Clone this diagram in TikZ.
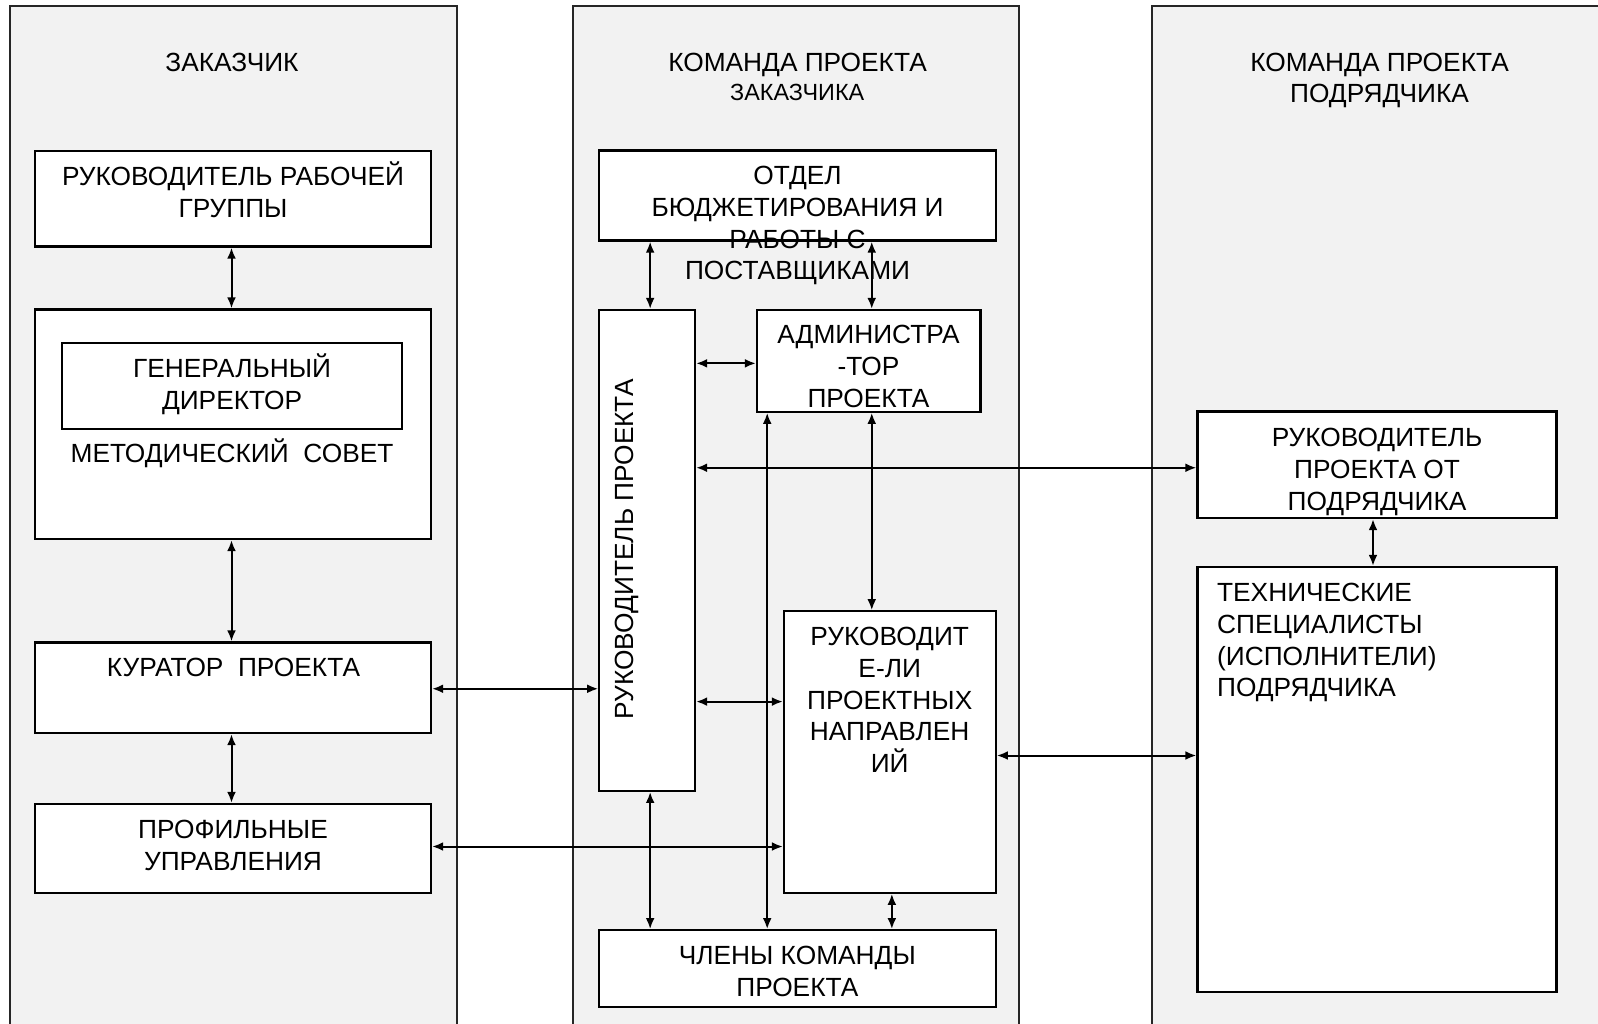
\documentclass[tikz,border=0pt]{standalone}
\usepackage{fontspec}
\setmainfont{Liberation Sans}
\usetikzlibrary{arrows.meta,calc}
\definecolor{panelgray}{HTML}{F2F2F2}
% invisible strut that fixes the height of a text block's first line
\newcommand\lnstrut{\rule{0pt}{12pt}}

\begin{document}
\begin{tikzpicture}[x=0.5pt,y=-0.5pt,
  paneledge/.style={draw=black!85, line width=1pt},
  box/.style={draw=black, line width=1.1pt, fill=white, inner sep=0pt, rectangle},
  sz/.style 2 args={minimum width=#1*0.5pt, minimum height=#2*0.5pt},
  txt/.style={font=\fontsize{13.15}{15.9}\selectfont, align=center, anchor=north, inner sep=0pt},
  smalltxt/.style={font=\fontsize{11.7}{14}\selectfont, align=center, anchor=north, inner sep=0pt},
  link/.style={line width=1pt, {Latex[length=5.5pt,width=4.4pt]}-{Latex[length=5.5pt,width=4.4pt]}},
]
\useasboundingbox (0,0) rectangle (1598,1023);

% three swim lanes, open at the bottom
\fill[panelgray] (10,5.5) rectangle (457,1030);
\draw[paneledge] (10,1030) -- (10,5.5) -- (457,5.5) -- (457,1030);
\fill[panelgray] (572.5,5.5) rectangle (1019.3,1030);
\draw[paneledge] (572.5,1030) -- (572.5,5.5) -- (1019.3,5.5) -- (1019.3,1030);
\fill[panelgray] (1152,5.5) rectangle (1610,1030);
\draw[paneledge] (1152,1030) -- (1152,5.5) -- (1610,5.5);

% lane headings
\node[txt] (hA) at (232,46.7) {\lnstrut ЗАКАЗЧИК};
\node[txt] (hB1) at (797.5,46.7) {\lnstrut КОМАНДА ПРОЕКТА};
\node[smalltxt] (hB2) at (797.2,76) {\lnstrut ЗАКАЗЧИКА};
\node[txt] (hC) at (1379.5,46.7) {\lnstrut КОМАНДА ПРОЕКТА\\ПОДРЯДЧИКА};

% boxes
\node[box, sz={396}{95.5}] (rrg) at (233,198.75) {};
\node[box, sz={396}{229.5}] (ms) at (233,424.25) {};
\node[box, sz={340}{86}] (gd) at (232,386) {};
\node[box, sz={396}{90.5}] (kur) at (233,687.75) {};
\node[box, sz={396}{89}] (prof) at (233,848.5) {};

\node[box, sz={396.4}{90}] (otdel) at (797.5,195.5) {};
\node[box, sz={95.7}{480.8}] (rp) at (647.15,550.4) {};
\node[box, sz={223.5}{101.7}] (adm) at (868.75,360.85) {};
\node[box, sz={211.7}{281.4}] (rn) at (889.85,752) {};
\node[box, sz={396.4}{77.1}] (chl) at (797.5,968.75) {};

\node[box, sz={359}{106.5}] (prp) at (1377,464.75) {};
\node[box, sz={359}{424.6}] (tech) at (1377,779.3) {};

% box texts
\node[txt] (t-rrg) at (233,161) {\lnstrut РУКОВОДИТЕЛЬ РАБОЧЕЙ\\ГРУППЫ};
\node[txt] (t-gd) at (232,353) {\lnstrut ГЕНЕРАЛЬНЫЙ\\ДИРЕКТОР};
\node[txt] (t-ms) at (232,438.5) {\lnstrut МЕТОДИЧЕСКИЙ\ \ СОВЕТ};
\node[txt] (t-kur) at (233.5,652.5) {\lnstrut КУРАТОР\ \ ПРОЕКТА};
\node[txt] (t-prof) at (233,814.5) {\lnstrut ПРОФИЛЬНЫЕ\\УПРАВЛЕНИЯ};

\node[txt] (t-otdel) at (797.5,160) {\lnstrut ОТДЕЛ\\БЮДЖЕТИРОВАНИЯ И\\РАБОТЫ С\\ПОСТАВЩИКАМИ};
\node[txt] (t-adm) at (868.5,319.5) {\lnstrut АДМИНИСТРА\\-ТОР\\ПРОЕКТА};
\node[txt] (t-rn) at (889.7,621) {\lnstrut РУКОВОДИТ\\Е-ЛИ\\ПРОЕКТНЫХ\\НАПРАВЛЕН\\ИЙ};
\node[txt] (t-chl) at (797.3,940.5) {\lnstrut ЧЛЕНЫ КОМАНДЫ\\ПРОЕКТА};
\node[font=\fontsize{13.15}{15.9}\selectfont, inner sep=0pt, rotate=90, anchor=base] (t-rp) at (633,549.3) {РУКОВОДИТЕЛЬ ПРОЕКТА};

\node[txt] (t-prp) at (1377,422) {\lnstrut РУКОВОДИТЕЛЬ\\ПРОЕКТА ОТ\\ПОДРЯДЧИКА};
\node[txt, align=left, anchor=north west] (t-tech) at (1216.7,577) {\lnstrut ТЕХНИЧЕСКИЕ\\СПЕЦИАЛИСТЫ\\(ИСПОЛНИТЕЛИ)\\ПОДРЯДЧИКА};

% connectors
\draw[link] ($(rrg.south)+(-1.5,0)$) -- ($(ms.north)+(-1.5,0)$);
\draw[link] ($(ms.south)+(-1.5,0)$) -- ($(kur.north)+(-1.5,0)$);
\draw[link] ($(kur.south)+(-1.5,0)$) -- ($(prof.north)+(-1.5,0)$);
\draw[link] ($(kur.east)+(0,1)$) -- ($(kur.east -| rp.west)+(0,1)$);
\draw[link] ($(prof.east)+(0,-2)$) -- ($(prof.east -| rn.west)+(0,-2)$);

\draw[link] ($(otdel.south -| rp.north)+(3,0)$) -- ($(rp.north)+(3,0)$);
\draw[link] ($(otdel.south -| adm.north)+(3,0)$) -- ($(adm.north)+(3,0)$);
\draw[link] ($(rp.east |- adm.west)+(0,2.5)$) -- ($(adm.west)+(0,2.5)$);
\draw[link] ($(adm.south)+(3,0)$) -- ($(rn.north -| adm.south)+(3,0)$);
\draw[link] ($(rp.east |- prp.west)+(0,3)$) -- ($(prp.west)+(0,3)$);
\draw[link] ($(rp.east |- rn.north)+(0,91.4)$) -- ($(rn.north west)+(0,91.4)$);
\draw[link] ($(rn.east)+(0,3.5)$) -- ($(tech.west |- rn.east)+(0,3.5)$);
\draw[link] ($(prp.south)+(-4,0)$) -- ($(tech.north)+(-4,0)$);

\draw[link] ($(rp.south)+(3,0)$) -- ($(chl.north -| rp.south)+(3,0)$);
\draw[link] ($(adm.south west)+(11.3,0)$) -- ($(chl.north -| adm.south west)+(11.3,0)$);
\draw[link] ($(rn.south)+(2,0)$) -- ($(chl.north -| rn.south)+(2,0)$);
\end{tikzpicture}
\end{document}
